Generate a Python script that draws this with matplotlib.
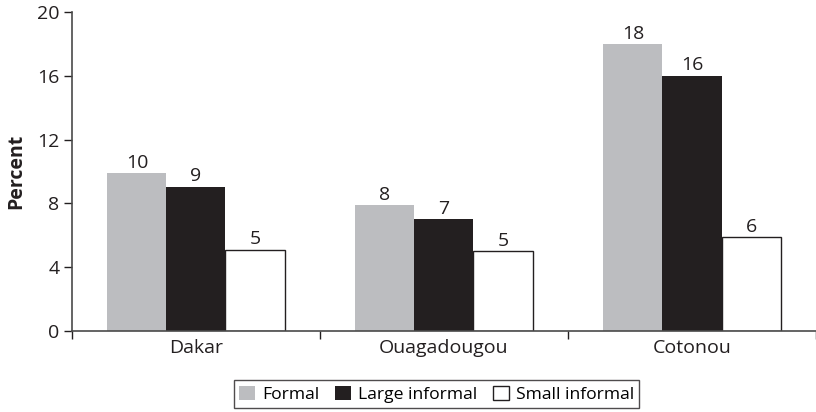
import matplotlib.pyplot as plt
import numpy as np

plt.rcParams['font.family'] = ['Open Sans', 'DejaVu Sans']

cities = ['Dakar', 'Ouagadougou', 'Cotonou']
formal = [9.9, 7.9, 18.0]
large_informal = [9.05, 7.0, 16.0]
small_informal = [5.1, 5.0, 5.9]
labels_formal = ['10', '8', '18']
labels_large = ['9', '7', '16']
labels_small = ['5', '5', '6']

fig = plt.figure(figsize=(8.16, 4.12), dpi=100)
ax = fig.add_axes([0.0882, 0.1966, 0.9118, 0.7743])

x = np.arange(len(cities))
w = 0.238
b1 = ax.bar(x - w, formal, w, color='#bcbdc0', label='Formal')
b2 = ax.bar(x, large_informal, w, color='#231f20', label='Large informal')
b3 = ax.bar(x + w, small_informal, w, color='white', edgecolor='#231f20', linewidth=1.0, label='Small informal')

for bars, labs in [(b1, labels_formal), (b2, labels_large), (b3, labels_small)]:
    ax.bar_label(bars, labels=labs, padding=1, fontsize=14, color='#231f20')

ax.set_xlim(-0.5, 2.5)
ax.set_ylim(0, 20)
ax.set_yticks([0, 4, 8, 12, 16, 20])
ax.set_xticks(x)
ax.set_xticklabels(cities)
ax.set_xticks([-0.5, 0.5, 1.5, 2.5], minor=True)
ax.tick_params(axis='x', which='major', length=0, pad=6, labelsize=14, colors='#231f20')
ax.tick_params(axis='x', which='minor', length=6, width=1, direction='out', color='#231f20')
ax.tick_params(axis='y', length=6, width=1, direction='out', labelsize=14, colors='#231f20', pad=3)
ax.set_ylabel('Percent', fontsize=14, fontweight='bold', color='#231f20', labelpad=8)

for s in ['top', 'right']:
    ax.spines[s].set_visible(False)
for s in ['left', 'bottom']:
    ax.spines[s].set_color('#4a4a4a')
    ax.spines[s].set_linewidth(1.2)

leg = ax.legend(loc='upper center', bbox_to_anchor=(0.49, -0.155), ncol=3, frameon=True,
                fancybox=False, edgecolor='#231f20', fontsize=12.6, handlelength=0.9,
                handleheight=0.9, handletextpad=0.4, columnspacing=0.9, borderpad=0.3,
                borderaxespad=0)
leg.get_frame().set_linewidth(1)

fig.savefig('out.png', dpi=100)
